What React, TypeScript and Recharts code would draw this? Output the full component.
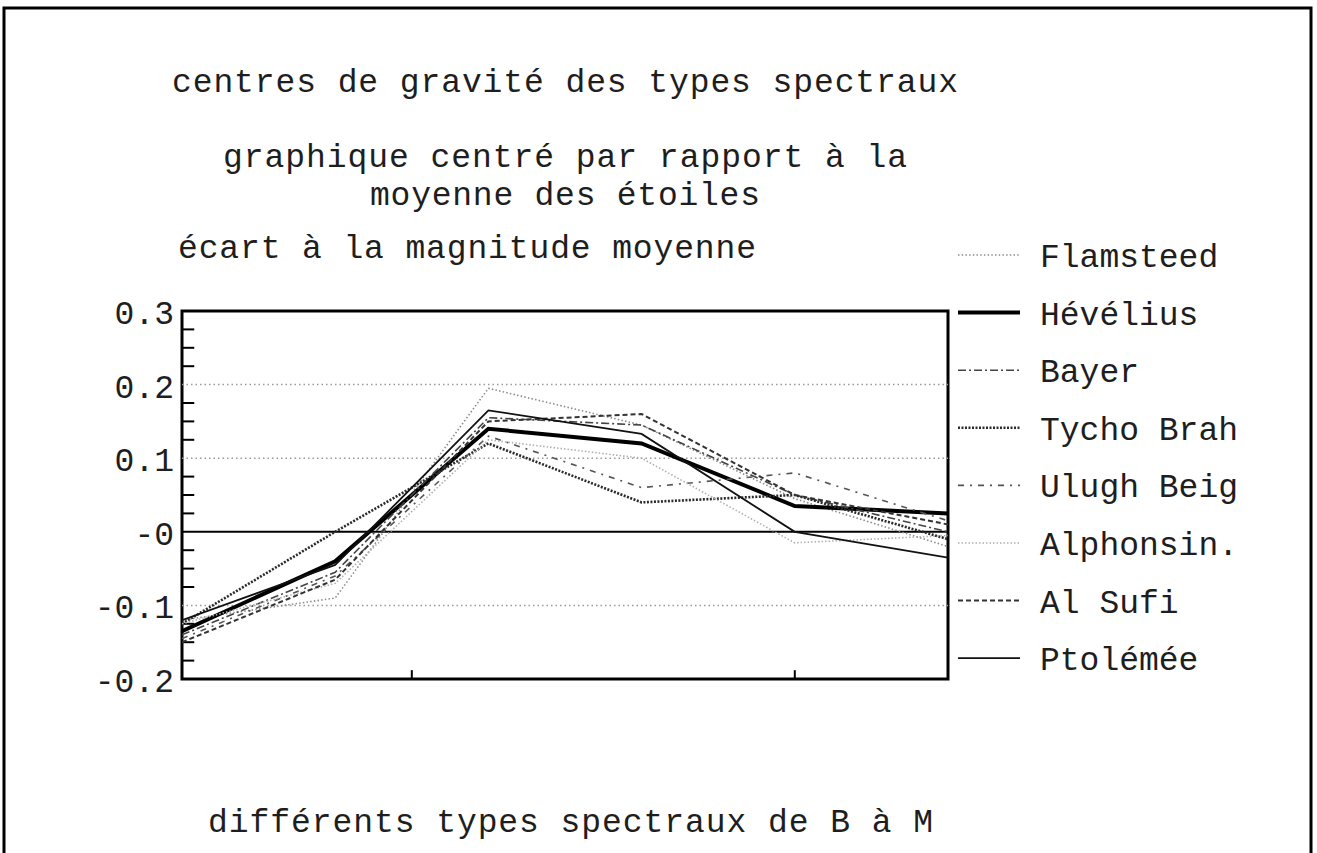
import React from 'react';
import { LineChart, Line, XAxis, YAxis, ReferenceLine, ReferenceArea } from 'recharts';

// spectral types B..M (points along x, unlabeled in the original)
const categories = ['B', 'A', 'F', 'G', 'K', 'M'];

const flamsteed = [-0.12, -0.09, 0.195, 0.145, 0.045, -0.02];
const hevelius = [-0.135, -0.04, 0.14, 0.12, 0.035, 0.025];
const bayer = [-0.14, -0.055, 0.155, 0.145, 0.05, 0.0];
const tycho = [-0.125, 0.0, 0.12, 0.04, 0.05, -0.01];
const ulughBeig = [-0.145, -0.06, 0.13, 0.06, 0.08, 0.015];
const alphonsin = [-0.125, -0.07, 0.125, 0.1, -0.015, -0.005];
const alSufi = [-0.15, -0.065, 0.15, 0.16, 0.05, 0.01];
const ptolemee = [-0.12, -0.045, 0.165, 0.133, 0.0, -0.035];

const yTicks = [0.3, 0.2, 0.1, 0, -0.1, -0.2];
const yTickLabels = ['0.3', '0.2', '0.1', '-0', '-0.1', '-0.2'];
const yMinorTicks = [
  0.275, 0.25, 0.225, 0.175, 0.15, 0.125, 0.075, 0.05, 0.025,
  -0.025, -0.05, -0.075, -0.125, -0.15, -0.175,
];
const xTicks = [1.5, 4];
const gridLines = [0.2, 0.1, -0.1];

const titleLines = [
  'centres de gravité des types spectraux',
  'graphique centré par rapport à la',
  'moyenne des étoiles',
  'écart à la magnitude moyenne',
];
const xTitle = 'différents types spectraux de B à M';

const series = [
  { key: 'flamsteed', name: 'Flamsteed', values: flamsteed, stroke: '#8c8c8c', width: 1.6, dash: '1.5 2.2' },
  { key: 'hevelius', name: 'Hévélius', values: hevelius, stroke: '#000000', width: 4, dash: undefined },
  { key: 'bayer', name: 'Bayer', values: bayer, stroke: '#444444', width: 1.6, dash: '8 3 2 3' },
  { key: 'tycho', name: 'Tycho Brah', values: tycho, stroke: '#2a2a2a', width: 2.6, dash: '2 1.5' },
  { key: 'ulugh', name: 'Ulugh Beig', values: ulughBeig, stroke: '#555555', width: 1.6, dash: '6 6 2 6' },
  { key: 'alphonsin', name: 'Alphonsin.', values: alphonsin, stroke: '#b0b0b0', width: 1.6, dash: '1.5 2' },
  { key: 'alsufi', name: 'Al Sufi', values: alSufi, stroke: '#333333', width: 2, dash: '5 3' },
  { key: 'ptolemee', name: 'Ptolémée', values: ptolemee, stroke: '#111111', width: 1.8, dash: undefined },
];

const data = categories.map((c, i) => {
  const row: Record<string, number | string> = { x: i, cat: c };
  series.forEach((s) => {
    row[s.key] = s.values[i];
  });
  return row;
});

const FONT = '"Liberation Mono", "DejaVu Sans Mono", monospace';
const INK = '#1e1e1e';

const YTick = (props: any) => {
  const { x, y, payload } = props;
  const idx = yTicks.findIndex((t) => Math.abs(t - payload.value) < 1e-9);
  const label = idx >= 0 ? yTickLabels[idx] : String(payload.value);
  return (
    <text x={x} y={y + 13} textAnchor="end" fontFamily={FONT} fontSize={33} fill={INK}>
      {label}
    </text>
  );
};

export default function App() {
  const legendTop = 255;
  const legendStep = 57.6;
  return (
    <div
      style={{
        position: 'absolute',
        left: 0,
        top: 0,
        width: 1317,
        height: 853,
        background: '#ffffff',
        overflow: 'hidden',
      }}
    >
      <div style={{ position: 'absolute', left: 0, top: 0 }}>
        <LineChart
          width={1317}
          height={853}
          data={data}
          margin={{ top: 311, right: 369, bottom: 174, left: 0 }}
        >
          <XAxis dataKey="x" type="number" domain={[0, 5]} ticks={xTicks} hide allowDataOverflow />
          <YAxis
            type="number"
            domain={[-0.2, 0.3]}
            ticks={yTicks}
            interval={0}
            width={182}
            axisLine={false}
            tickLine={false}
            tick={<YTick />}
            allowDataOverflow
          />
          {gridLines.map((g) => (
            <ReferenceLine key={'g' + g} y={g} stroke="#9a9a9a" strokeWidth={1.5} strokeDasharray="1.5 3" />
          ))}
          <ReferenceLine y={0} stroke="#000" strokeWidth={2} />
          {yMinorTicks.map((t) => (
            <ReferenceLine
              key={'m' + t}
              segment={[
                { x: 0, y: t },
                { x: 0.08, y: t },
              ]}
              stroke="#000"
              strokeWidth={2}
            />
          ))}
          {xTicks.map((t) => (
            <ReferenceLine
              key={'x' + t}
              segment={[
                { x: t, y: -0.2 },
                { x: t, y: -0.188 },
              ]}
              stroke="#000"
              strokeWidth={2}
            />
          ))}
          {series.map((s) => (
            <Line
              key={s.key}
              type="linear"
              dataKey={s.key}
              name={s.name}
              stroke={s.stroke}
              strokeWidth={s.width}
              strokeDasharray={s.dash}
              dot={false}
              activeDot={false}
              isAnimationActive={false}
            />
          ))}
          <ReferenceArea x1={0} x2={5} y1={-0.2} y2={0.3} fill="none" stroke="#000" strokeWidth={3} ifOverflow="visible" />
        </LineChart>
      </div>
      <svg
        width={1317}
        height={853}
        style={{ position: 'absolute', left: 0, top: 0, pointerEvents: 'none' }}
      >
        <rect x={4} y={8} width={1307} height={900} fill="none" stroke="#000" strokeWidth={3} />
        <text x={172} y={92} fontFamily={FONT} fontSize={33} fill={INK} textLength={786} lengthAdjust="spacing">
          {titleLines[0]}
        </text>
        <text x={223} y={167} fontFamily={FONT} fontSize={33} fill={INK} textLength={684} lengthAdjust="spacing">
          {titleLines[1]}
        </text>
        <text x={370} y={205} fontFamily={FONT} fontSize={33} fill={INK} textLength={390} lengthAdjust="spacing">
          {titleLines[2]}
        </text>
        <text x={178} y={258} fontFamily={FONT} fontSize={33} fill={INK} textLength={578} lengthAdjust="spacing">
          {titleLines[3]}
        </text>
        <text x={208} y={832} fontFamily={FONT} fontSize={33} fill={INK} textLength={725} lengthAdjust="spacing">
          {xTitle}
        </text>
        {series.map((s, i) => {
          const y = legendTop + i * legendStep;
          return (
            <g key={'lg' + s.key}>
              <line
                x1={958}
                x2={1020}
                y1={y}
                y2={y}
                stroke={s.stroke}
                strokeWidth={s.width}
                strokeDasharray={s.dash}
              />
              <text x={1040} y={y + 12} fontFamily={FONT} fontSize={33} fill={INK}>
                {s.name}
              </text>
            </g>
          );
        })}
      </svg>
    </div>
  );
}
